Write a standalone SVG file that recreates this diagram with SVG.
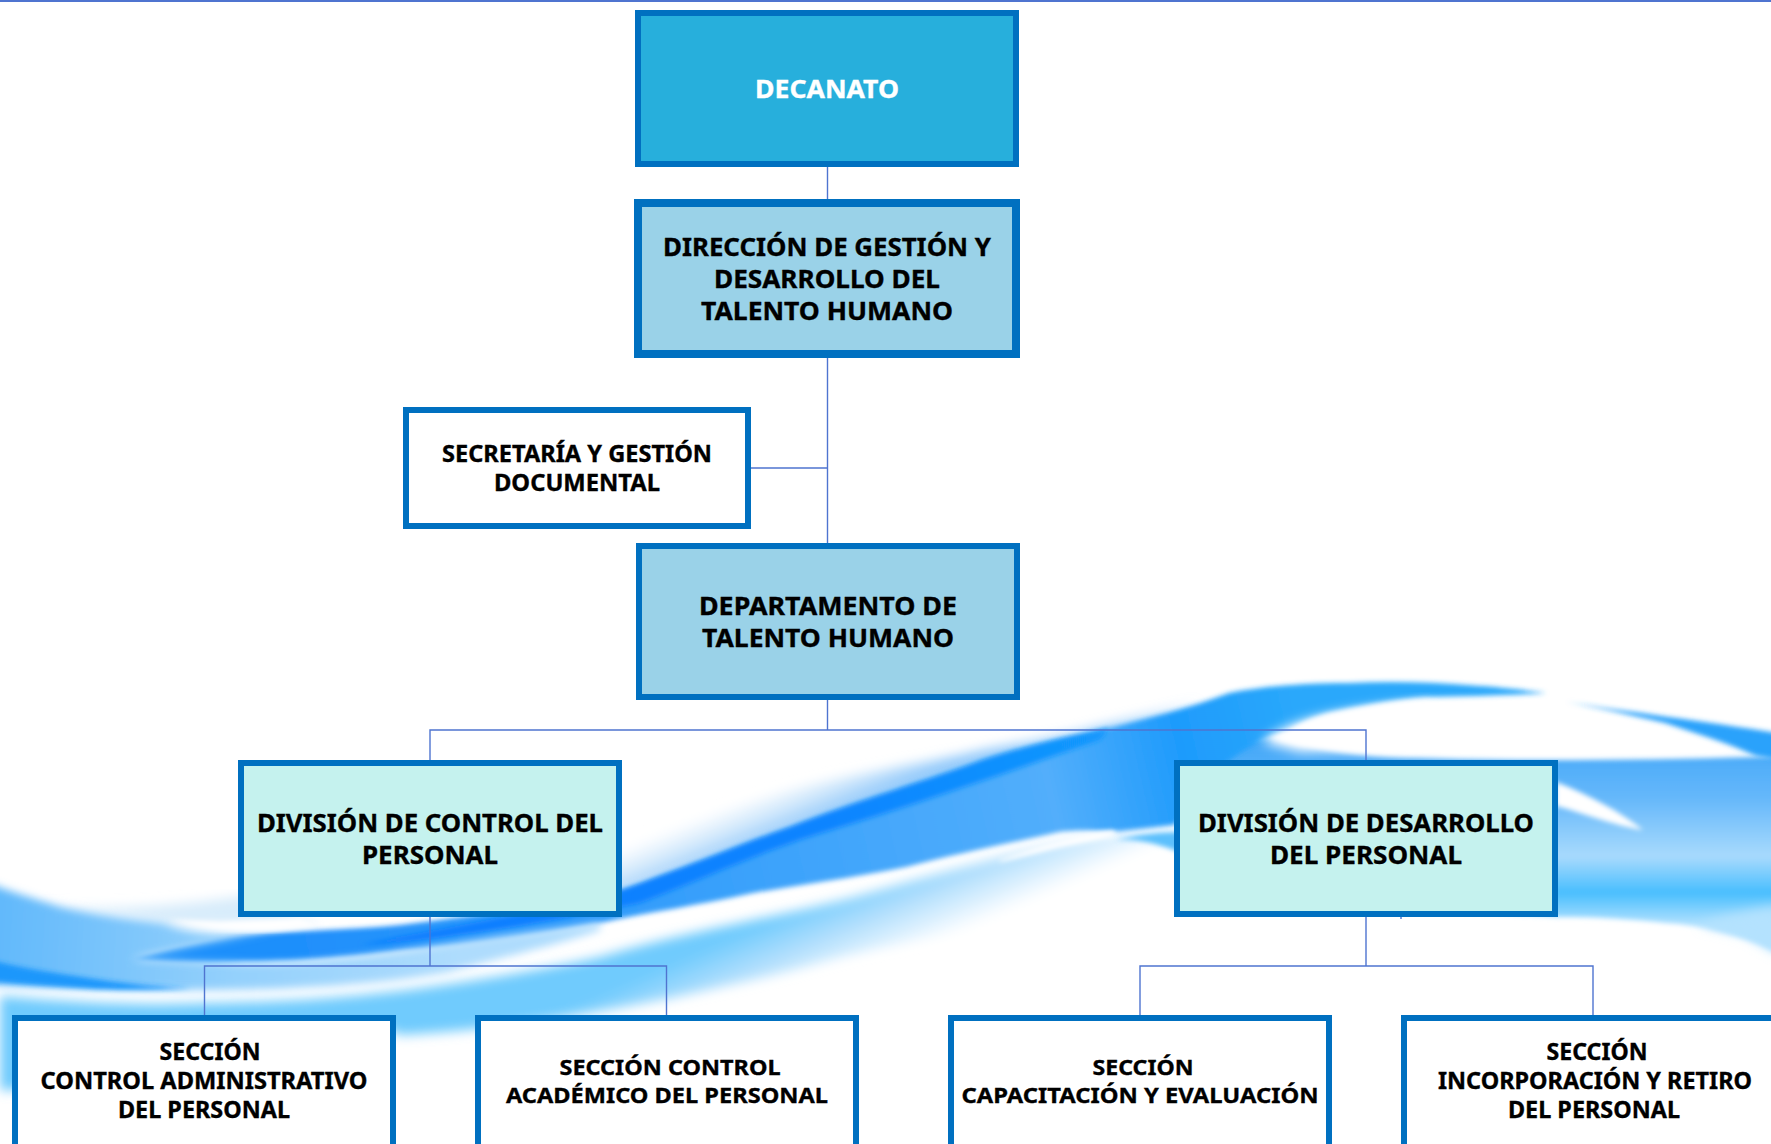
<svg xmlns="http://www.w3.org/2000/svg" width="1771" height="1144" viewBox="0 0 1771 1144">
<defs>
<filter id="b6" x="-20%" y="-20%" width="140%" height="140%"><feGaussianBlur stdDeviation="6"/></filter>
<filter id="b4" x="-20%" y="-20%" width="140%" height="140%"><feGaussianBlur stdDeviation="4"/></filter>
<filter id="b3" x="-20%" y="-20%" width="140%" height="140%"><feGaussianBlur stdDeviation="2.5"/></filter>
<linearGradient id="haze" gradientUnits="userSpaceOnUse" x1="800" y1="775" x2="825" y2="835"><stop offset="0" stop-color="#fff"/><stop offset="0.35" stop-color="#d5eafc"/><stop offset="0.75" stop-color="#8fc8fb"/></linearGradient>
<linearGradient id="body" gradientUnits="userSpaceOnUse" x1="300" y1="950" x2="1300" y2="720"><stop offset="0" stop-color="#1f8ffb"/><stop offset="0.45" stop-color="#3ba2fb"/><stop offset="0.75" stop-color="#52aefb"/><stop offset="0.88" stop-color="#1e9bfc"/><stop offset="1" stop-color="#2aa8fb"/></linearGradient>
<linearGradient id="block" gradientUnits="userSpaceOnUse" x1="0" y1="745" x2="0" y2="925"><stop offset="0" stop-color="#45a8f8"/><stop offset="0.3" stop-color="#66b8fa"/><stop offset="0.62" stop-color="#a8dafd"/><stop offset="0.82" stop-color="#48befe"/><stop offset="1" stop-color="#b4e2fe"/></linearGradient>
<linearGradient id="fade" gradientUnits="userSpaceOnUse" x1="850" y1="885" x2="885" y2="965"><stop offset="0" stop-color="#70cbfd"/><stop offset="0.45" stop-color="#b2dffd"/><stop offset="1" stop-color="#fff"/></linearGradient>
<linearGradient id="left" gradientUnits="userSpaceOnUse" x1="0" y1="930" x2="460" y2="960"><stop offset="0" stop-color="#62b9fb"/><stop offset="0.5" stop-color="#93d0fc"/><stop offset="1" stop-color="#aedcfd"/></linearGradient>
<linearGradient id="deep" gradientUnits="userSpaceOnUse" x1="400" y1="930" x2="1110" y2="730"><stop offset="0" stop-color="#0f7dff"/><stop offset="0.6" stop-color="#0f84ff"/><stop offset="1" stop-color="#1298fd"/></linearGradient>
<style>
.n{stroke:#0070c0;stroke-width:6}
.t{font-family:"Noto Sans","Open Sans","Liberation Sans",sans-serif;font-weight:700;text-anchor:middle;fill:#000;stroke:#000;stroke-width:.35}
.l{fill:none;stroke:#4f74d0;stroke-width:1.4}
</style>
</defs>
<rect width="1771" height="1144" fill="#fff"/>
<g id="background">
<path filter="url(#b6)" fill="#d8ecfb" d="M30 905C110 912 180 905 250 895L320 925L180 925Z"/>
<path filter="url(#b6)" fill="url(#haze)" d="M330 930C420 895 520 880 622 847C700 820 760 795 830 780C900 765 940 760 983 750C1040 740 1070 735 1097 727L1200 703L1109 732L983 764L791 831L623 894L420 935Z"/>
<path filter="url(#b6)" fill="url(#fade)" d="M0 996C80 1003 150 1006 204 1003C290 1002 340 998 408 990C480 980 540 970 600 957C690 930 790 915 868 893C950 870 1040 845 1109 835L1200 820L1200 895C1150 905 1060 915 983 927C910 942 870 950 830 960C780 975 730 985 676 997C600 1012 500 1030 396 1035L396 1030L12 1090L0 1090Z"/>
<path filter="url(#b3)" fill="url(#block)" d="M1200 745L1269 738C1310 748 1350 755 1388 757C1500 762 1640 760 1756 757L1790 757V960L1771 950C1740 935 1700 925 1665 923C1620 918 1590 917 1558 917C1450 910 1350 905 1250 895L1200 830Z"/>
<path filter="url(#b6)" fill="#b4e2fe" d="M1700 925C1725 915 1750 910 1780 905V955L1745 935Z"/>
<path filter="url(#b3)" fill="#fff" d="M1556 782C1590 795 1620 812 1643 830C1615 826 1580 812 1556 806Z"/>
<path filter="url(#b3)" fill="#2aa2fb" d="M1566 702C1630 712 1710 722 1790 735V762L1756 756C1725 742 1695 733 1665 723C1630 715 1600 708 1566 702Z"/>
<path filter="url(#b3)" fill="url(#body)" d="M131 959C170 948 210 938 245 935C300 930 350 930 400 925C480 915 560 905 623 890C680 870 740 845 791 827C860 800 930 780 983 760C1030 745 1070 737 1109 728C1150 717 1190 708 1229 693C1270 685 1310 683 1348 683C1390 681 1430 682 1467 685C1500 687 1525 690 1546 693C1500 696 1460 696 1427 697C1390 700 1360 706 1328 713C1310 718 1298 724 1289 730L1269 738C1240 750 1210 770 1200 800L1174 825L1113 832C1090 830 1075 830 1059 832C1000 845 950 855 906 867C850 878 800 885 753 893C700 905 650 912 600 923C540 935 470 945 408 950C360 956 300 962 245 962C200 964 165 963 131 959Z"/>
<path filter="url(#b6)" fill="#fff" d="M1262 742C1285 722 1330 708 1430 702L1410 750L1300 752Z"/>
<path filter="url(#b3)" fill="url(#deep)" d="M360 945C430 930 530 915 623 890C680 870 740 845 791 827C860 800 930 780 983 760C1030 745 1070 737 1109 728L1100 740C1000 775 900 810 815 835C760 852 700 880 640 903C560 920 460 938 360 945Z"/>
<path filter="url(#b4)" fill="url(#left)" d="M-20 880C20 895 40 900 61 907C110 918 140 920 163 923C190 935 240 938 300 925L131 959L245 963C310 964 370 955 408 950L500 936L600 923L600 930C540 950 490 960 449 972C380 985 280 990 204 990C130 990 60 988 -20 984Z"/>
<path filter="url(#b3)" fill="#fff" d="M171 920C210 932 270 935 318 925L300 918L220 922Z"/>
<path filter="url(#b3)" fill="#1b97fb" d="M-10 960C30 970 70 975 102 980C130 984 165 987 192 988C150 990 110 990 82 988C50 986 20 984 -10 981Z"/>
<path filter="url(#b3)" fill="#fff" d="M1000 860C1040 845 1080 835 1113 830L1118 835L1059 847L1000 862Z"/>
<path filter="url(#b3)" fill="#5cc0fd" d="M1115 840C1140 838 1160 845 1180 852V832C1160 832 1135 835 1115 840Z"/>
<rect x="0" y="0" width="1771" height="2" fill="#4f74d0"/>
</g>
<g id="connectors">
<path class="l" d="M827.5 166V200M827.5 357V545M751 468H827.5M827.5 699V730M430 760V730H1366V760M430 915V966M204.5 1016V966H666.5V1016M1366 915V966M1140 1016V966H1593V1016M1401 915V919"/>
</g>
<g id="decanato"><rect class="n" x="638" y="13" width="378" height="151" fill="#27afdc"/><text class="t" x="827" y="98" font-size="25" textLength="144" lengthAdjust="spacingAndGlyphs" style="fill:#fff;stroke:#fff">DECANATO</text></g>
<g id="direccion"><rect class="n" x="638" y="203" width="378" height="151" fill="#9ad2e8" style="stroke-width:8"/><text class="t" x="827" y="256" font-size="25" textLength="328" lengthAdjust="spacingAndGlyphs">DIRECCIÓN DE GESTIÓN Y</text><text class="t" x="827" y="288" font-size="25" textLength="226" lengthAdjust="spacingAndGlyphs">DESARROLLO DEL</text><text class="t" x="827" y="320" font-size="25" textLength="252" lengthAdjust="spacingAndGlyphs">TALENTO HUMANO</text></g>
<g id="secretaria"><rect class="n" x="406" y="410" width="342" height="116" fill="#fff"/><text class="t" x="577" y="462" font-size="23" textLength="270" lengthAdjust="spacingAndGlyphs">SECRETARÍA Y GESTIÓN</text><text class="t" x="577" y="491" font-size="23" textLength="166" lengthAdjust="spacingAndGlyphs">DOCUMENTAL</text></g>
<g id="departamento"><rect class="n" x="639" y="546" width="378" height="151" fill="#9ad2e8"/><text class="t" x="828" y="615" font-size="25" textLength="258" lengthAdjust="spacingAndGlyphs">DEPARTAMENTO DE</text><text class="t" x="828" y="647" font-size="25" textLength="252" lengthAdjust="spacingAndGlyphs">TALENTO HUMANO</text></g>
<g id="div-control"><rect class="n" x="241" y="763" width="378" height="151" fill="#c5f2ee"/><text class="t" x="430" y="832" font-size="25" textLength="346" lengthAdjust="spacingAndGlyphs">DIVISIÓN DE CONTROL DEL</text><text class="t" x="430" y="864" font-size="25" textLength="136" lengthAdjust="spacingAndGlyphs">PERSONAL</text></g>
<g id="div-desarrollo"><rect class="n" x="1177" y="763" width="378" height="151" fill="#c5f2ee"/><text class="t" x="1366" y="832" font-size="25" textLength="336" lengthAdjust="spacingAndGlyphs">DIVISIÓN DE DESARROLLO</text><text class="t" x="1366" y="864" font-size="25" textLength="192" lengthAdjust="spacingAndGlyphs">DEL PERSONAL</text></g>
<g id="sec-admin"><rect class="n" x="15" y="1018" width="378" height="140" fill="#fff"/><text class="t" x="210" y="1060" font-size="22.5" textLength="101" lengthAdjust="spacingAndGlyphs">SECCIÓN</text><text class="t" x="204" y="1089" font-size="22.5" textLength="327" lengthAdjust="spacingAndGlyphs">CONTROL ADMINISTRATIVO</text><text class="t" x="204" y="1118" font-size="22.5" textLength="172" lengthAdjust="spacingAndGlyphs">DEL PERSONAL</text></g>
<g id="sec-academico"><rect class="n" x="478" y="1018" width="378" height="140" fill="#fff"/><text class="t" x="670" y="1075" font-size="22" textLength="221" lengthAdjust="spacingAndGlyphs">SECCIÓN CONTROL</text><text class="t" x="667" y="1103" font-size="22" textLength="322" lengthAdjust="spacingAndGlyphs">ACADÉMICO DEL PERSONAL</text></g>
<g id="sec-capacitacion"><rect class="n" x="951" y="1018" width="378" height="140" fill="#fff"/><text class="t" x="1143" y="1075" font-size="22" textLength="101" lengthAdjust="spacingAndGlyphs">SECCIÓN</text><text class="t" x="1140" y="1103" font-size="22" textLength="357" lengthAdjust="spacingAndGlyphs">CAPACITACIÓN Y EVALUACIÓN</text></g>
<g id="sec-incorporacion"><rect class="n" x="1404" y="1018" width="378" height="140" fill="#fff"/><text class="t" x="1597" y="1060" font-size="22.5" textLength="101" lengthAdjust="spacingAndGlyphs">SECCIÓN</text><text class="t" x="1595" y="1089" font-size="22.5" textLength="314" lengthAdjust="spacingAndGlyphs">INCORPORACIÓN Y RETIRO</text><text class="t" x="1594" y="1118" font-size="22.5" textLength="172" lengthAdjust="spacingAndGlyphs">DEL PERSONAL</text></g>
</svg>
